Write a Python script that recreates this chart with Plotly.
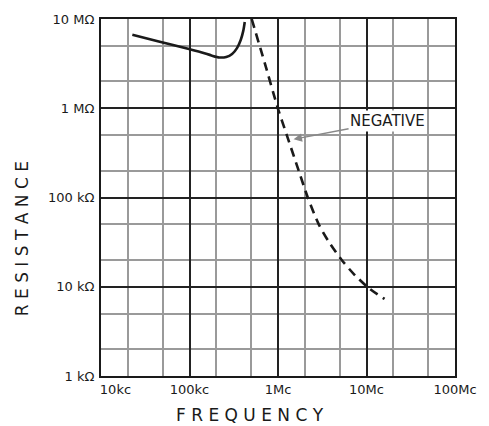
import math
import plotly.graph_objects as go

# Solid curve (positive resistance)
pos_freq_hz = [22600, 44900, 98600, 141000, 177000, 217000, 260000, 303000, 344000, 380000, 405000, 421000]
pos_res_ohm = [6.65e6, 5.60e6, 4.60e6, 4.19e6, 3.90e6, 3.71e6, 3.76e6, 4.06e6, 4.72e6, 5.86e6, 7.36e6, 9.27e6]

# Dashed curve (negative resistance)
neg_freq_hz = [504000, 710000, 1.0e6, 1.26e6, 1.73e6, 2.17e6, 2.88e6, 3.76e6, 5.22e6, 7.28e6, 1.07e7, 1.60e7]
neg_res_ohm = [1.0e7, 3.18e6, 9.86e5, 4.97e5, 1.94e5, 1.0e5, 5.04e4, 3.18e4, 2.01e4, 1.37e4, 9.6e3, 7.3e3]

x_tick_vals = [1e4, 1e5, 1e6, 1e7, 1e8]
x_tick_text = ["\u00a0" * 7 + "10kc", "100kc", "1Mc", "10Mc", "100Mc"]
x_minor_vals = [2e4, 5e4, 2e5, 5e5, 2e6, 5e6, 2e7, 5e7]

y_tick_vals = [1e3, 1e4, 1e5, 1e6, 1e7]
y_tick_text = ["1 kΩ", "10 kΩ", "100 kΩ", "1 MΩ", "10 MΩ"]
y_minor_vals = [2e3, 5e3, 2e4, 5e4, 2e5, 5e5, 2e6, 5e6]

note_freq = 1.50e6
note_res = 4.49e5

FONT = "DejaVu Sans"
INK = "#1a1a1a"

fig = go.Figure()
fig.add_trace(go.Scatter(x=pos_freq_hz, y=pos_res_ohm, mode="lines",
                         line=dict(color=INK, width=2.6, shape="spline", smoothing=0.8),
                         showlegend=False, hoverinfo="skip"))
fig.add_trace(go.Scatter(x=neg_freq_hz, y=neg_res_ohm, mode="lines",
                         line=dict(color=INK, width=2.6, shape="spline", smoothing=0.8,
                                   dash="9px,6px"),
                         showlegend=False, hoverinfo="skip"))

axis_common = dict(
    type="log", showline=True, linecolor=INK, linewidth=2, mirror=True,
    showgrid=True, gridcolor="#222222", gridwidth=2,
    ticks="", zeroline=False,
    tickfont=dict(family=FONT, size=13, color=INK),
)

fig.update_xaxes(
    **axis_common,
    range=[4, 8],
    tickmode="array", tickvals=x_tick_vals, ticktext=x_tick_text,
    ticklabelstandoff=0,
    minor=dict(tickvals=x_minor_vals, showgrid=True, gridcolor="#9a9a9a", gridwidth=1.5, ticks=""),
)
fig.update_yaxes(
    **axis_common,
    range=[3, 7],
    tickmode="array", tickvals=y_tick_vals, ticktext=y_tick_text,
    ticklabelstandoff=2,
    minor=dict(tickvals=y_minor_vals, showgrid=True, gridcolor="#9a9a9a", gridwidth=1.5, ticks=""),
)

fig.add_annotation(x=math.log10(note_freq), y=math.log10(note_res), xref="x", yref="y",
                   text="NEGATIVE", showarrow=True, ax=94, ay=-18,
                   arrowhead=2, arrowsize=1.2, arrowwidth=1.4, arrowcolor="#888888",
                   font=dict(family=FONT, size=15, color=INK), xanchor="center",
                   bgcolor="white")

fig.add_annotation(text="R E S I S T A N C E", xref="paper", yref="paper",
                   x=-0.258, y=0.385, textangle=-90, showarrow=False,
                   font=dict(family=FONT, size=17, color=INK))
fig.add_annotation(text="F R E Q U E N C Y", xref="paper", yref="paper",
                   x=0.421, y=-0.11, showarrow=False, yanchor="middle",
                   font=dict(family=FONT, size=17, color=INK))

fig.update_layout(
    width=489, height=426,
    margin=dict(l=101, r=26, t=14, b=50),
    plot_bgcolor="white", paper_bgcolor="white",
    showlegend=False,
)

fig.write_html("out.html", config={"displayModeBar": False},
               post_script="document.body.style.margin='0';document.body.style.padding='0';")
